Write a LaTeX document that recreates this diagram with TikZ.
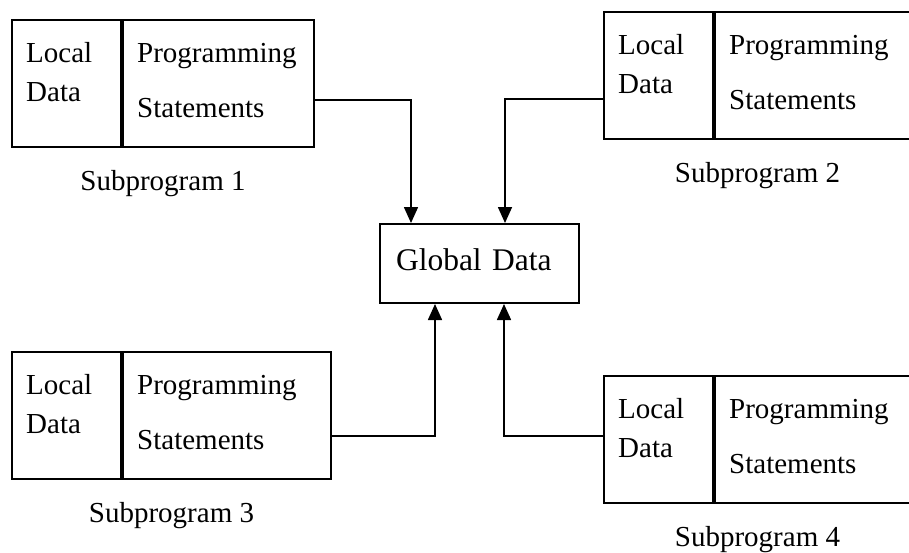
\documentclass[tikz,border=0pt]{standalone}
\usepackage{fontspec}
\setmainfont{Liberation Serif}
\usetikzlibrary{arrows.meta,calc}
% one subprogram box: name, left, top, width of the right part, label
\newcommand{\subprog}[5]{%
	\node[cell, minimum width=109pt, anchor=north west] (loc#1) at (#2,#3) {};
	\node[cell, minimum width=#4pt, anchor=north west] (prog#1) at (loc#1.north east) {};
	\node[word] (local#1) at ([shift={(15pt,-43pt)}]loc#1.north west) {Local};
	\node[word] (data#1) at ([shift={(15pt,-82pt)}]loc#1.north west) {Data};
	\node[word] (pro#1) at ([shift={(15pt,-43pt)}]prog#1.north west) {Programming};
	\node[word] (stat#1) at ([shift={(15pt,-98pt)}]prog#1.north west) {Statements};
	\node[word, anchor=base] (name#1) at ($(loc#1.south west)!0.5!(prog#1.south east)+(0pt,-43pt)$) {#5};
}

\begin{document}
\begin{tikzpicture}[x=1pt, y=-1pt]
	% `cell' is used for the box parts, `word' for the texts.
	\tikzstyle{cell} = [draw, line width=2pt, minimum height=126.5pt, inner sep=0pt]
	\tikzstyle{word} = [inner sep=0pt, anchor=base west, font=\fontsize{29}{34}\selectfont]
	\tikzstyle{flow} = [line width=1.6pt, -{Triangle[length=16pt, width=14pt]}]
	\useasboundingbox (0,0) rectangle (909,552);
	%
	% Subprograms.
	\subprog{1}{11}{19}{191}{Subprogram 1}
	\subprog{2}{603}{11}{196}{Subprogram 2}
	\subprog{3}{11}{351}{208}{Subprogram 3}
	\subprog{4}{603}{375}{196}{Subprogram 4}
	%
	% Global data in the middle.
	\node[cell, minimum width=199pt, minimum height=79pt, anchor=north west,
		text width=167pt, inner xsep=16pt, align=left, text depth=8pt,
		font=\fontsize{31.5}{36}\selectfont] (global) at (379,223) {Global Data};
	%
	% Draw lines.
	\coordinate (j1) at (411,100);
	\coordinate (j2) at (505,99);
	\coordinate (j3) at (435,436);
	\coordinate (j4) at (504,436);
	\draw[flow] (j1 -| prog1.east) -| (j1 |- global.north);
	\draw[flow] (j2 -| loc2.west) -| (j2 |- global.north);
	\draw[flow] (j3 -| prog3.east) -| (j3 |- global.south);
	\draw[flow] (j4 -| loc4.west) -| (j4 |- global.south);
\end{tikzpicture}
\end{document}
